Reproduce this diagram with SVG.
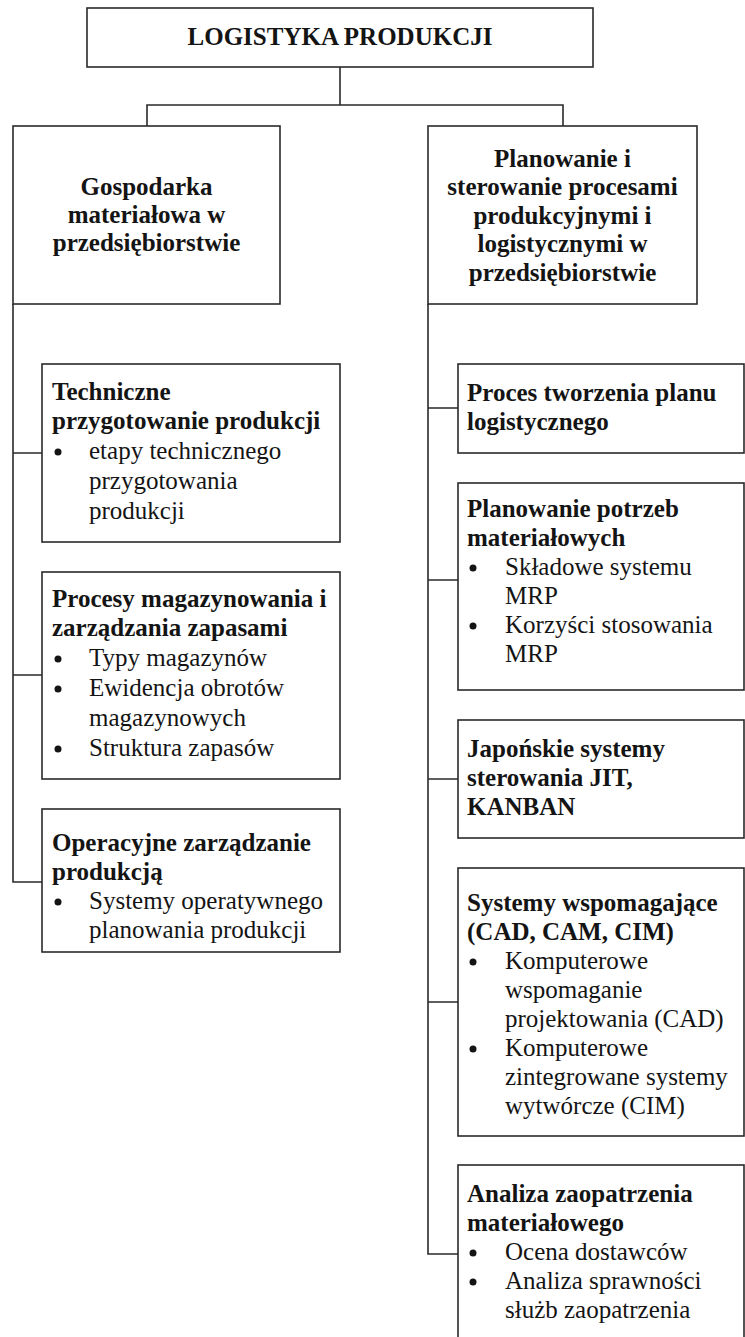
<svg xmlns="http://www.w3.org/2000/svg" width="745" height="1337" viewBox="0 0 745 1337">
<style>
.box{fill:#fff;stroke:#2a2a2a;stroke-width:1.6}
.con{fill:none;stroke:#2a2a2a;stroke-width:1.6}
.b{font-family:"Liberation Serif","Times New Roman",serif;font-weight:bold;font-size:25px;fill:#141414}
.r{font-family:"Liberation Serif","Times New Roman",serif;font-size:25px;fill:#141414}
.c{text-anchor:middle}
.dot{fill:#141414}
</style>
<rect width="745" height="1337" fill="#fff"/>
<g id="connectors">
<path class="con" d="M340,67 V105 M147,126 V105 H563 V126"/>
<path class="con" d="M13,304 V882 H42 M13,453 H42 M13,675 H42"/>
<path class="con" d="M428,304 V1254 H458 M428,408 H458 M428,580 H458 M428,779 H458 M428,1002 H458"/>
</g>
<g id="n-root">
<rect class="box" x="87" y="8" width="506" height="59"/>
<text class="b c" x="340" y="45">LOGISTYKA PRODUKCJI</text>
</g>
<g id="n-gospodarka">
<rect class="box" x="13" y="126" width="267" height="178"/>
<text class="b c" x="146.5" y="195">Gospodarka</text>
<text class="b c" x="146.5" y="223">materiałowa w</text>
<text class="b c" x="146.5" y="251">przedsiębiorstwie</text>
</g>
<g id="n-planowanie">
<rect class="box" x="428" y="126" width="269" height="178"/>
<text class="b c" x="562.5" y="167">Planowanie i</text>
<text class="b c" x="562.5" y="195">sterowanie procesami</text>
<text class="b c" x="562.5" y="224">produkcyjnymi i</text>
<text class="b c" x="562.5" y="252">logistycznymi w</text>
<text class="b c" x="562.5" y="281">przedsiębiorstwie</text>
</g>
<g id="n-techniczne">
<rect class="box" x="42" y="364" width="298" height="178"/>
<text class="b" x="52" y="400">Techniczne</text>
<text class="b" x="52" y="429">przygotowanie produkcji</text>
<circle class="dot" cx="58" cy="452" r="3.5"/>
<text class="r" x="89" y="459">etapy technicznego</text>
<text class="r" x="89" y="489">przygotowania</text>
<text class="r" x="89" y="519">produkcji</text>
</g>
<g id="n-magazynowanie">
<rect class="box" x="42" y="572" width="298" height="207"/>
<text class="b" x="52" y="607">Procesy magazynowania i</text>
<text class="b" x="52" y="636">zarządzania zapasami</text>
<circle class="dot" cx="58" cy="659" r="3.5"/>
<text class="r" x="89" y="666">Typy magazynów</text>
<circle class="dot" cx="58" cy="689" r="3.5"/>
<text class="r" x="89" y="696">Ewidencja obrotów</text>
<text class="r" x="89" y="726">magazynowych</text>
<circle class="dot" cx="58" cy="749" r="3.5"/>
<text class="r" x="89" y="756">Struktura zapasów</text>
</g>
<g id="n-operacyjne">
<rect class="box" x="42" y="809" width="298" height="143"/>
<text class="b" x="52" y="851">Operacyjne zarządzanie</text>
<text class="b" x="52" y="880">produkcją</text>
<circle class="dot" cx="58" cy="902" r="3.5"/>
<text class="r" x="89" y="909">Systemy operatywnego</text>
<text class="r" x="89" y="938">planowania produkcji</text>
</g>
<g id="n-proces">
<rect class="box" x="458" y="364" width="286" height="89"/>
<text class="b" x="467" y="401">Proces tworzenia planu</text>
<text class="b" x="467" y="430">logistycznego</text>
</g>
<g id="n-mrp">
<rect class="box" x="458" y="483" width="286" height="207"/>
<text class="b" x="467" y="517">Planowanie potrzeb</text>
<text class="b" x="467" y="546">materiałowych</text>
<circle class="dot" cx="473" cy="568" r="3.5"/>
<text class="r" x="505" y="575">Składowe systemu</text>
<text class="r" x="505" y="604">MRP</text>
<circle class="dot" cx="473" cy="626" r="3.5"/>
<text class="r" x="505" y="633">Korzyści stosowania</text>
<text class="r" x="505" y="662">MRP</text>
</g>
<g id="n-jit">
<rect class="box" x="458" y="720" width="286" height="118"/>
<text class="b" x="467" y="757">Japońskie systemy</text>
<text class="b" x="467" y="786">sterowania JIT,</text>
<text class="b" x="467" y="815">KANBAN</text>
</g>
<g id="n-cad">
<rect class="box" x="458" y="868" width="286" height="268"/>
<text class="b" x="467" y="911">Systemy wspomagające</text>
<text class="b" x="467" y="940">(CAD, CAM, CIM)</text>
<circle class="dot" cx="473" cy="962" r="3.5"/>
<text class="r" x="505" y="969">Komputerowe</text>
<text class="r" x="505" y="998">wspomaganie</text>
<text class="r" x="505" y="1027">projektowania (CAD)</text>
<circle class="dot" cx="473" cy="1049" r="3.5"/>
<text class="r" x="505" y="1056">Komputerowe</text>
<text class="r" x="505" y="1085">zintegrowane systemy</text>
<text class="r" x="505" y="1114">wytwórcze (CIM)</text>
</g>
<g id="n-zaopatrzenie">
<rect class="box" x="458" y="1165" width="286" height="190"/>
<text class="b" x="467" y="1202">Analiza zaopatrzenia</text>
<text class="b" x="467" y="1231">materiałowego</text>
<circle class="dot" cx="473" cy="1253" r="3.5"/>
<text class="r" x="505" y="1260">Ocena dostawców</text>
<circle class="dot" cx="473" cy="1282" r="3.5"/>
<text class="r" x="505" y="1289">Analiza sprawności</text>
<text class="r" x="505" y="1318">służb zaopatrzenia</text>
</g>
</svg>
